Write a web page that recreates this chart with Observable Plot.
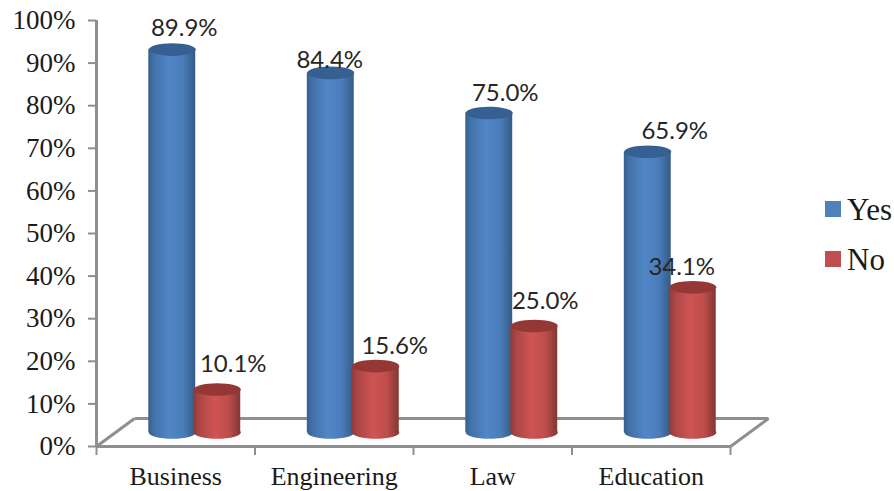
<!DOCTYPE html>
<html>
<head>
<meta charset="utf-8">
<script src="https://cdn.jsdelivr.net/npm/d3@7"></script>
<script src="https://cdn.jsdelivr.net/npm/@observablehq/plot@0.6"></script>
<style>
html,body{margin:0;padding:0;background:#fff;}
#wrap{position:relative;width:894px;height:491px;overflow:hidden;color:#1a1a1a;}
.lg{position:absolute;font-family:"Liberation Serif",serif;font-size:31px;line-height:30px;}
.sw{position:absolute;width:16px;height:16px;}
</style>
</head>
<body>
<div id="wrap"></div>
<script>
const categories = ["Business", "Engineering", "Law", "Education"];
const seriesNames = ["Yes", "No"];
const yesValues = [89.9, 84.4, 75.0, 65.9];
const noValues = [10.1, 15.6, 25.0, 34.1];
const yTicks = [0, 10, 20, 30, 40, 50, 60, 70, 80, 90, 100];
const seriesColors = {Yes: "#4f81bd", No: "#c0504d"};

// 3-D floor depth and bar width, in data units
const depthX = 0.24, depthY = 6.57, barW = 0.296, gap = 0.284;
// hand placed data labels of the original, [dx, dy] pixels from the bar top
const yesLabelOffsets = [[12, -21], [-1, -13], [16, -20], [27, -20]];
const noLabelOffsets = [[16, -25], [19, -20], [11, -25], [-11, -20]];

const rows = [];
seriesNames.forEach((s, k) => {
  const vals = k === 0 ? yesValues : noValues;
  categories.forEach((c, i) => {
    const cx = i + 0.5 + depthX / 2 + (k === 0 ? -gap / 2 : gap / 2);
    rows.push({category: c, series: s, value: vals[i], cx,
      x1: cx - barW / 2, x2: cx + barW / 2,
      y1: depthY / 2, y2: vals[i] + depthY / 2,
      off: (k === 0 ? yesLabelOffsets : noLabelOffsets)[i]});
  });
});

const ellipse = {draw(ctx, size) {
  const rx = Math.sqrt(size / Math.PI), ry = rx * 0.27, kx = rx * 0.5523, ky = ry * 0.5523;
  ctx.moveTo(-rx, 0);
  ctx.bezierCurveTo(-rx, -ky, -kx, -ry, 0, -ry);
  ctx.bezierCurveTo(kx, -ry, rx, -ky, rx, 0);
  ctx.bezierCurveTo(rx, ky, kx, ry, 0, ry);
  ctx.bezierCurveTo(-kx, ry, -rx, ky, -rx, 0);
  ctx.closePath();
}};

function gradientDefs() {
  const defs = d3.create("svg:defs");
  const stops = {
    Yes: [["0", "#34608f"], ["0.12", "#4372a8"], ["0.45", "#5087c8"], ["0.75", "#4a7cb8"], ["1", "#345b86"]],
    No: [["0", "#8c3a38"], ["0.12", "#aa4645"], ["0.45", "#cf5453"], ["0.75", "#bd4d4b"], ["1", "#843634"]]
  };
  for (const s of seriesNames) {
    const g = defs.append("linearGradient").attr("id", "grad" + s).attr("x1", 0).attr("x2", 1).attr("y1", 0).attr("y2", 0);
    for (const [o, c] of stops[s]) g.append("stop").attr("offset", o).attr("stop-color", c);
  }
  return defs.node();
}

const axisGray = "#8f8f8f";
const serif = "Liberation Serif";
const floorLinks = [
  {x1: 0, y1: 0, x2: depthX, y2: depthY},
  {x1: 4, y1: 0, x2: 4 + depthX, y2: depthY},
  {x1: depthX, y1: depthY, x2: 4 + depthX, y2: depthY},
  {x1: 0, y1: 0, x2: 4, y2: 0}
];

const barMarks = rows.flatMap(r => [
  Plot.dot([r], {x: "cx", y: "y1", r: 23.5, symbol: ellipse, fill: `url(#grad${r.series})`, stroke: "none"}),
  Plot.rect([r], {x1: "x1", x2: "x2", y1: "y1", y2: "y2", fill: `url(#grad${r.series})`}),
  Plot.dot([r], {x: "cx", y: "y2", r: 23.5, symbol: ellipse,
    fill: r.series === "Yes" ? "#376092" : "#953735", stroke: "none"})
]);

const labelMarks = rows.map(r =>
  Plot.text([r], {x: "cx", y: "y2", text: d => d.value.toFixed(1) + "%",
    dx: r.off[0], dy: r.off[1], fontSize: 24, fontFamily: "Lato", fill: "#262626"}));

const chart = Plot.plot({
  width: 894, height: 491,
  marginLeft: 96, marginRight: 164, marginTop: 20, marginBottom: 45,
  style: {background: "transparent", overflow: "visible"},
  x: {domain: [0, 4], label: null},
  y: {domain: [0, 100], label: null},
  marks: [
    gradientDefs,
    Plot.link(floorLinks, {x1: "x1", y1: "y1", x2: "x2", y2: "y2", stroke: axisGray, strokeWidth: 3}),
    Plot.ruleX([0], {y1: 0, y2: 100, stroke: axisGray, strokeWidth: 3}),
    Plot.axisY({ticks: yTicks, tickSize: 8, tickPadding: 13, stroke: axisGray, strokeWidth: 2,
      tickFormat: d => d + "%", fontSize: 27, fontFamily: serif, label: null}),
    Plot.axisX({ticks: [0, 1, 2, 3, 4], tickSize: 9, tickFormat: () => "", stroke: axisGray, strokeWidth: 2, label: null}),
    Plot.axisX({ticks: categories.map((c, i) => i + 0.5), tickSize: 0, tickPadding: 20,
      tickFormat: d => categories[Math.floor(d)], fontSize: 26, fontFamily: serif, label: null}),
    ...barMarks,
    ...labelMarks
  ]
});
const wrap = document.getElementById("wrap");
wrap.appendChild(chart);

const legendTop = [201, 251];
seriesNames.forEach((s, k) => {
  const sw = document.createElement("div");
  sw.className = "sw";
  sw.style.cssText = `left:825px;top:${legendTop[k]}px;background:${seriesColors[s]}`;
  wrap.appendChild(sw);
  const t = document.createElement("div");
  t.className = "lg";
  t.textContent = s;
  t.style.cssText = `left:847px;top:${legendTop[k] - 6}px`;
  wrap.appendChild(t);
});
</script>
</body>
</html>
